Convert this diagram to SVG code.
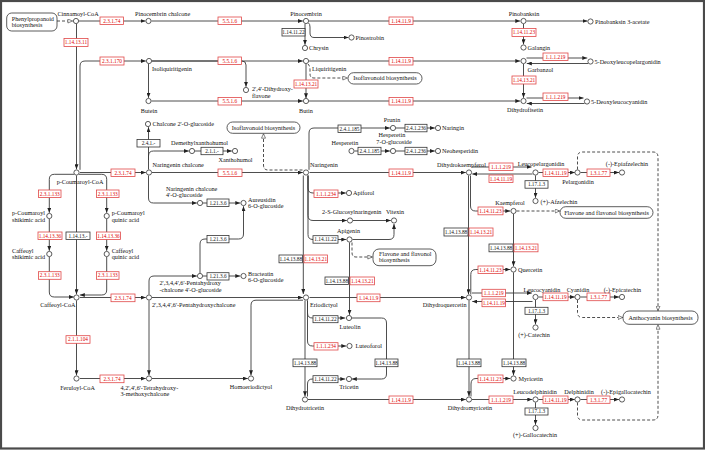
<svg xmlns="http://www.w3.org/2000/svg" width="705" height="450" viewBox="0 0 705 450">
<defs>
<marker id="a" markerUnits="userSpaceOnUse" markerWidth="5" markerHeight="4" refX="5" refY="2" orient="auto"><path d="M0,0 L5,2 L0,4 z" fill="#222"/></marker>
<marker id="o" markerUnits="userSpaceOnUse" markerWidth="6" markerHeight="5" refX="5.2" refY="2.5" orient="auto"><path d="M0.5,0.5 L5,2.5 L0.5,4.5 z" fill="#fff" stroke="#333" stroke-width="0.6"/></marker>
<style>
.ln{fill:none;stroke:#3a3a3a;stroke-width:0.9;marker-end:url(#a)}
.ds{fill:none;stroke:#3a3a3a;stroke-width:0.9;stroke-dasharray:3 2;marker-end:url(#o)}
.cp circle{fill:#fff;stroke:#333;stroke-width:0.8}
text{font-family:"Liberation Serif","Times New Roman",serif;font-size:6.2px;fill:#111}
.m{text-anchor:middle}
.e{text-anchor:end}
.er rect{fill:#fff;stroke:#e04848;stroke-width:0.8}
.er text{fill:#e00000;font-size:5.3px;text-anchor:middle}
.eb rect{fill:#fff;stroke:#333;stroke-width:0.8}
.eb text{fill:#111;font-size:5.3px;text-anchor:middle}
.mp rect{fill:#fff;stroke:#333;stroke-width:0.8}
</style>
</defs>
<rect x="0" y="0" width="705" height="450" fill="#fff"/>
<rect x="1" y="1" width="703" height="447.5" fill="none" stroke="#4a4a4a" stroke-width="2.2"/>

<g id="connectors">
<path class="ds" d="M57,21 H72.6"/>
<path class="ln" d="M78.5,21 H145.5"/>
<path class="ln" d="M151.5,21 H302.8"/>
<path class="ln" d="M309,21 H520.3"/>
<path class="ln" d="M308.5,23 Q310,24 310,27 V33 Q310,37.5 314,37.5 H348.5"/>
<path class="ln" d="M305,24 V44.8"/>
<path class="ln" d="M526.5,21 H587.5"/>
<path class="ln" d="M523.5,24 V44.3"/>
<path class="ln" d="M76.5,24 V169.3"/>
<path class="ln" d="M80,169.8 V66 Q80,61 85,61 H145.8"/>
<path class="ln" d="M152,61 H302.8"/>
<path class="ln" d="M152,61 H242 Q246,61 246,65 V86.8"/>
<path class="ln" d="M148.5,64 V97.8"/>
<path class="ds" d="M308,64 Q310,66 310,70 V74 Q310,78 314,78 H347.5"/>
<path class="ln" d="M306,64 V98.3"/>
<path class="ln" d="M309,61 H520.3"/>
<path class="ln" d="M526.5,58 H587.3"/>
<path class="ln" d="M588,63.5 H526.8"/>
<path class="ln" d="M523.5,64 V97.8"/>
<path class="ln" d="M151.5,101 H302.8"/>
<path class="ln" d="M309,101 H520.3"/>
<path class="ln" d="M526.5,98 H583.5"/>
<path class="ln" d="M584.5,103.5 H526.8"/>
<path class="ln" d="M148.5,169.5 V127.2"/>
<path class="ln" d="M148.5,160 V156 Q148.5,151 153.5,151 H188.8"/>
<path class="ln" d="M148.5,175.5 V198 Q148.5,203 153.5,203 H196.8"/>
<path class="ln" d="M195,151 H231.8"/>
<path class="ln" d="M152,172.5 H302.8"/>
<path class="ln" d="M80,172.5 H145.8"/>
<path class="ds" d="M302.5,170 H268 Q263.5,170 263.5,165 V133.5"/>
<path class="ln" d="M309,169.8 V133 Q309,128 314,128 H389.8"/>
<path class="ln" d="M396,128 H434.8"/>
<path class="ln" d="M354.5,151 H389.8"/>
<path class="ln" d="M396,151 H434.8"/>
<path class="ln" d="M309.5,172.5 H465.8"/>
<path class="ln" d="M308,175.5 V188 Q308,193 313,193 H345.8"/>
<path class="ln" d="M308,175.5 V215.5 Q308,220.5 313,220.5 H346.8"/>
<path class="ln" d="M308,175.5 V234.5 Q308,239.5 313,239.5 H346.3"/>
<path class="ln" d="M303.3,175.5 V294"/>
<path class="ln" d="M353,220.5 H390.8"/>
<path class="ln" d="M352.5,239.5 H389 Q394,239.5 394,234.5 V224"/>
<path class="ds" d="M352,242.5 V252.5 Q352,257 356,257 H372.5"/>
<path class="ln" d="M349.5,242.5 V314.8"/>
<path class="ln" d="M152,297.5 H302.8"/>
<path class="ln" d="M80,297.5 H145.8"/>
<path class="ln" d="M149,294.5 V281 Q149,276 154,276 H196.8"/>
<path class="ln" d="M203,276 H240.3"/>
<path class="ln" d="M200,273 V244 Q200,239 205,239 H238.5 Q243.5,239 243.5,234 V206.3"/>
<path class="ln" d="M203,203 H240.3"/>
<path class="ln" d="M149,300.5 V375.3"/>
<path class="ln" d="M80,378.5 H145.8"/>
<path class="ln" d="M152,378.5 H247.8"/>
<path class="ln" d="M303,300.2 H256 Q251,300.2 251,305.2 V375.3"/>
<path class="ln" d="M76.5,300.5 V375.3"/>
<path class="ln" d="M76.5,175.5 V294.3"/>
<path class="ln" d="M74,174.3 H54.3 Q49.3,174.3 49.3,179.3 V212.8"/>
<path class="ln" d="M49.3,219 V250.8"/>
<path class="ln" d="M49.3,257 V292 Q49.3,297 54.3,297 H73.8"/>
<path class="ln" d="M79,174.3 H101.7 Q106.7,174.3 106.7,179.3 V212.8"/>
<path class="ln" d="M106.7,219 V250.8"/>
<path class="ln" d="M106.7,257 V290 Q106.7,295 101.7,295 H79.8"/>
<path class="ln" d="M472,167 H531.5"/>
<path class="ln" d="M532.5,174 H472.3"/>
<path class="ln" d="M538.5,172.5 H574.8"/>
<path class="ln" d="M580.5,172.5 H619"/>
<path class="ln" d="M535.5,175.5 V197.8"/>
<path class="ds" d="M577.5,169.5 V157 Q577.5,152 582.5,152 H653 Q658,152 658,157 V310.8"/>
<path class="ln" d="M470.5,175.5 V206 Q470.5,211 475.5,211 H510.3"/>
<path class="ln" d="M468.5,175.5 V294.3"/>
<path class="ds" d="M516.5,211 H559.8"/>
<path class="ln" d="M513.5,214 V266.3"/>
<path class="ln" d="M470.8,294.5 V274.5 Q470.8,269.5 475.8,269.5 H510.3"/>
<path class="ln" d="M309.5,297.5 H465.8"/>
<path class="ln" d="M472,293 H531.8"/>
<path class="ln" d="M532.5,301.5 H472.3"/>
<path class="ln" d="M538.5,297 H574.8"/>
<path class="ln" d="M580.5,297 H619"/>
<path class="ln" d="M535.5,300 V324.3"/>
<path class="ds" d="M577.5,300 V312.5 Q577.5,317.5 582.5,317.5 H622.8"/>
<path class="ln" d="M307.5,300.5 V313 Q307.5,318 312.5,318 H345.3"/>
<path class="ln" d="M307.5,300.5 V341 Q307.5,346 312.5,346 H346.3"/>
<path class="ln" d="M305,300.5 V396.3"/>
<path class="ln" d="M307.5,396.5 V384 Q307.5,379 312.5,379 H345.3"/>
<path class="ln" d="M351.5,318 H381.5 Q386.5,318 386.5,323 V374 Q386.5,379 381.5,379 H351.8"/>
<path class="ln" d="M308,399.5 H465.8"/>
<path class="ln" d="M469,300.5 V396.3"/>
<path class="ln" d="M471,396.5 V384 Q471,378.5 476,378.5 H510.3"/>
<path class="ln" d="M513.5,272.5 V375.3"/>
<path class="ln" d="M472,399.5 H532.3"/>
<path class="ln" d="M538.5,399.5 H574.8"/>
<path class="ln" d="M580.5,399.5 H619"/>
<path class="ln" d="M535.5,402.5 V424.8"/>
<path class="ds" d="M577.5,402.5 V415 Q577.5,420 582.5,420 H653 Q658,420 658,415 V324.5"/>
</g>

<g id="enzymes">
<g id="e1" class="er"><rect x="100" y="17" width="23.5" height="7.5"/><text x="111.8" y="22.7">2.3.1.74</text></g>
<g id="e2" class="er"><rect x="218" y="17" width="23.5" height="7.5"/><text x="229.8" y="22.7">5.5.1.6</text></g>
<g id="e3" class="eb"><rect x="282" y="28.5" width="23" height="7.5"/><text x="293.5" y="34.2">1.14.11.22</text></g>
<g id="e4" class="er"><rect x="389" y="17" width="24" height="7.5"/><text x="401" y="22.7">1.14.11.9</text></g>
<g id="e5" class="er"><rect x="512" y="28.5" width="24" height="8"/><text x="524" y="34.4">1.14.11.23</text></g>
<g id="e6" class="er"><rect x="64" y="38.5" width="24" height="8"/><text x="76" y="44.4">1.14.13.11</text></g>
<g id="e7" class="er"><rect x="100" y="57" width="24" height="8"/><text x="112" y="62.9">2.3.1.170</text></g>
<g id="e8" class="er"><rect x="218" y="57" width="23.5" height="7.5"/><text x="229.8" y="62.7">5.5.1.6</text></g>
<g id="e9" class="er"><rect x="389" y="57.5" width="24" height="7.5"/><text x="401" y="63.2">1.14.11.9</text></g>
<g id="e10" class="er"><rect x="543" y="53" width="25" height="7.5"/><text x="555.5" y="58.7">1.1.1.219</text></g>
<g id="e11" class="er"><rect x="294" y="80" width="24" height="8"/><text x="306" y="85.9">1.14.13.21</text></g>
<g id="e12" class="er"><rect x="512" y="76" width="24" height="8"/><text x="524" y="81.9">1.14.13.21</text></g>
<g id="e13" class="er"><rect x="218" y="97.5" width="23.5" height="7.5"/><text x="229.8" y="103.2">5.5.1.6</text></g>
<g id="e14" class="er"><rect x="389" y="97.5" width="24" height="7.5"/><text x="401" y="103.2">1.14.11.9</text></g>
<g id="e15" class="er"><rect x="543" y="93" width="25" height="7.5"/><text x="555.5" y="98.7">1.1.1.219</text></g>
<g id="e16" class="eb"><rect x="137" y="139.5" width="23" height="7.5"/><text x="148.5" y="145.2">2.4.1.-</text></g>
<g id="e17" class="eb"><rect x="201" y="147.3" width="22" height="7.4"/><text x="212" y="152.9">2.1.1.-</text></g>
<g id="e18" class="eb"><rect x="338" y="125" width="23" height="7.5"/><text x="349.5" y="130.7">2.4.1.185</text></g>
<g id="e19" class="eb"><rect x="405" y="124.3" width="22" height="7.5"/><text x="416" y="130">2.4.1.236</text></g>
<g id="e20" class="eb"><rect x="358" y="147.3" width="23" height="7.4"/><text x="369.5" y="152.9">2.4.1.185</text></g>
<g id="e21" class="eb"><rect x="405" y="147.3" width="22" height="7.4"/><text x="416" y="152.9">2.4.1.236</text></g>
<g id="e22" class="er"><rect x="111" y="169" width="24" height="7.5"/><text x="123" y="174.7">2.3.1.74</text></g>
<g id="e23" class="er"><rect x="218" y="169" width="24" height="7.5"/><text x="230" y="174.7">5.5.1.6</text></g>
<g id="e24" class="er"><rect x="389" y="169" width="24" height="7.5"/><text x="401" y="174.7">1.14.11.9</text></g>
<g id="e25" class="er"><rect x="489" y="163" width="24" height="7.5"/><text x="501" y="168.7">1.1.1.219</text></g>
<g id="e26" class="er"><rect x="489" y="175" width="24" height="7.5"/><text x="501" y="180.7">1.14.11.19</text></g>
<g id="e27" class="er"><rect x="543" y="169" width="25" height="7.5"/><text x="555.5" y="174.7">1.14.11.19</text></g>
<g id="e28" class="er"><rect x="587" y="169" width="23" height="7.5"/><text x="598.5" y="174.7">1.3.1.77</text></g>
<g id="e29" class="eb"><rect x="525" y="180.7" width="23" height="7.5"/><text x="536.5" y="186.4">1.17.1.3</text></g>
<g id="e30" class="er"><rect x="38.5" y="190" width="22.5" height="7.5"/><text x="49.8" y="195.7">2.3.1.133</text></g>
<g id="e31" class="er"><rect x="96.5" y="190" width="22.5" height="7.5"/><text x="107.8" y="195.7">2.3.1.133</text></g>
<g id="e32" class="er"><rect x="314" y="190" width="24" height="7.5"/><text x="326" y="195.7">1.1.1.234</text></g>
<g id="e33" class="eb"><rect x="207" y="199" width="22" height="7.5"/><text x="218" y="204.7">1.21.3.6</text></g>
<g id="e34" class="er"><rect x="478" y="207" width="25" height="7.8"/><text x="490.5" y="212.8">1.14.11.23</text></g>
<g id="e35" class="eb"><rect x="444" y="228" width="24" height="8"/><text x="456" y="233.9">1.14.13.88</text></g>
<g id="e36" class="er"><rect x="469" y="228" width="24" height="8"/><text x="481" y="233.9">1.14.13.21</text></g>
<g id="e37" class="er"><rect x="38" y="232" width="24" height="7.5"/><text x="50" y="237.7">1.14.13.36</text></g>
<g id="e38" class="eb"><rect x="66" y="232" width="24" height="7.5"/><text x="78" y="237.7">1.14.13.-</text></g>
<g id="e39" class="er"><rect x="96.5" y="232" width="24" height="7.5"/><text x="108.5" y="237.7">1.14.13.36</text></g>
<g id="e40" class="eb"><rect x="313" y="235.7" width="25" height="7.5"/><text x="325.5" y="241.4">1.14.11.22</text></g>
<g id="e41" class="eb"><rect x="207" y="235.5" width="22" height="7.3"/><text x="218" y="241.1">1.21.3.6</text></g>
<g id="e42" class="eb"><rect x="489" y="244" width="24" height="7.8"/><text x="501" y="249.8">1.14.13.88</text></g>
<g id="e43" class="er"><rect x="514" y="244" width="24" height="7.8"/><text x="526" y="249.8">1.14.13.21</text></g>
<g id="e44" class="eb"><rect x="279" y="255" width="23.5" height="7.8"/><text x="290.8" y="260.8">1.14.13.88</text></g>
<g id="e45" class="er"><rect x="304" y="255" width="23.5" height="7.8"/><text x="315.8" y="260.8">1.14.13.21</text></g>
<g id="e46" class="er"><rect x="478" y="266" width="25" height="7.5"/><text x="490.5" y="271.7">1.14.11.23</text></g>
<g id="e47" class="er"><rect x="38.5" y="271.7" width="22.5" height="7.6"/><text x="49.8" y="277.4">2.3.1.133</text></g>
<g id="e48" class="er"><rect x="96.5" y="271.7" width="22.5" height="7.6"/><text x="107.8" y="277.4">2.3.1.133</text></g>
<g id="e49" class="eb"><rect x="207" y="272.7" width="22" height="7.3"/><text x="218" y="278.3">1.21.3.6</text></g>
<g id="e50" class="eb"><rect x="325" y="277" width="23.5" height="7.5"/><text x="336.8" y="282.7">1.14.13.88</text></g>
<g id="e51" class="er"><rect x="350" y="277" width="24.5" height="7.8"/><text x="362.3" y="282.8">1.14.13.21</text></g>
<g id="e52" class="er"><rect x="482" y="289.3" width="23.5" height="7.4"/><text x="493.8" y="294.9">1.1.1.219</text></g>
<g id="e53" class="er"><rect x="482" y="299" width="23.5" height="7.7"/><text x="493.8" y="304.8">1.14.11.19</text></g>
<g id="e54" class="er"><rect x="543" y="293" width="25" height="7.7"/><text x="555.5" y="298.8">1.14.11.19</text></g>
<g id="e55" class="er"><rect x="587" y="293" width="23" height="7.7"/><text x="598.5" y="298.8">1.3.1.77</text></g>
<g id="e56" class="er"><rect x="111" y="294" width="24" height="7.7"/><text x="123" y="299.8">2.3.1.74</text></g>
<g id="e57" class="er"><rect x="357" y="294" width="23" height="7.7"/><text x="368.5" y="299.8">1.14.11.9</text></g>
<g id="e58" class="eb"><rect x="525" y="307.3" width="23" height="7"/><text x="536.5" y="312.7">1.17.1.3</text></g>
<g id="e59" class="eb"><rect x="313" y="315.7" width="25" height="7"/><text x="325.5" y="321.1">1.14.11.22</text></g>
<g id="e60" class="er"><rect x="66" y="335.7" width="24" height="7.6"/><text x="78" y="341.4">2.1.1.104</text></g>
<g id="e61" class="er"><rect x="314" y="342.7" width="24" height="7.3"/><text x="326" y="348.3">1.1.1.234</text></g>
<g id="e62" class="eb"><rect x="293" y="359" width="24" height="7.7"/><text x="305" y="364.8">1.14.13.88</text></g>
<g id="e63" class="eb"><rect x="375" y="359" width="23" height="7.7"/><text x="386.5" y="364.8">1.14.13.88</text></g>
<g id="e64" class="eb"><rect x="457" y="359" width="24" height="7.7"/><text x="469" y="364.8">1.14.13.88</text></g>
<g id="e65" class="eb"><rect x="502" y="359" width="24" height="7.7"/><text x="514" y="364.8">1.14.13.88</text></g>
<g id="e66" class="er"><rect x="100" y="375" width="24" height="7.7"/><text x="112" y="380.8">2.3.1.74</text></g>
<g id="e67" class="eb"><rect x="313" y="375.7" width="25" height="7"/><text x="325.5" y="381.1">1.14.11.22</text></g>
<g id="e68" class="er"><rect x="478" y="375" width="25" height="7.7"/><text x="490.5" y="380.8">1.14.11.23</text></g>
<g id="e69" class="er"><rect x="389" y="396" width="24" height="7.3"/><text x="401" y="401.6">1.14.11.9</text></g>
<g id="e70" class="er"><rect x="489" y="396" width="24" height="7.3"/><text x="501" y="401.6">1.1.1.219</text></g>
<g id="e71" class="er"><rect x="543" y="396" width="25" height="7.3"/><text x="555.5" y="401.6">1.14.11.19</text></g>
<g id="e72" class="er"><rect x="587" y="396" width="23" height="7.3"/><text x="598.5" y="401.6">1.3.1.77</text></g>
<g id="e73" class="eb"><rect x="525" y="408" width="23" height="7"/><text x="536.5" y="413.4">1.17.1.3</text></g>
</g>

<g id="maps" class="mp">
<g id="m-phenylpropanoid"><rect x="6.7" y="13" width="50.3" height="18" rx="5"/><text x="11.7" y="20.8">Phenylpropanoid</text><text x="11.7" y="26.8">biosynthesis</text></g>
<g id="m-isoflavonoid1"><rect x="348" y="72.7" width="74" height="11.3" rx="5.6"/><text class="m" x="385" y="80.4">Isoflavonoid biosynthesis</text></g>
<g id="m-isoflavonoid2"><rect x="227" y="122" width="73" height="11.3" rx="5.6"/><text class="m" x="263.5" y="129.8">Isoflavonoid biosynthesis</text></g>
<g id="m-flavone1"><rect x="373" y="249" width="63" height="16.7" rx="6"/><text x="379" y="256">Flavone and flavonol</text><text x="379" y="262.2">biosynthesis</text></g>
<g id="m-flavone2"><rect x="560" y="206.7" width="93" height="11.6" rx="5.8"/><text class="m" x="606.5" y="214.6">Flavone and flavonol biosynthesis</text></g>
<g id="m-anthocyanin"><rect x="623" y="311" width="75" height="13.3" rx="6"/><text class="m" x="660.5" y="319.8">Anthocyanin biosynthesis</text></g>
</g>

<g id="compounds" class="cp">
<g id="cinnamoyl-coa"><circle cx="76" cy="21" r="2.6"/><text class="m" x="78" y="15.5">Cinnamoyl-CoA</text></g>
<g id="pinocembrin-chalcone"><circle cx="148.5" cy="21" r="2.6"/><text x="135" y="15.5">Pinocembrin chalcone</text></g>
<g id="pinocembrin"><circle cx="306" cy="21" r="2.6"/><text class="m" x="306" y="15.5">Pinocembrin</text></g>
<g id="pinostrobin"><circle cx="351.5" cy="37.5" r="2.6"/><text x="355.5" y="39.7">Pinostrobin</text></g>
<g id="chrysin"><circle cx="305" cy="48" r="2.6"/><text x="309" y="50">Chrysin</text></g>
<g id="pinobanksin"><circle cx="523.5" cy="21" r="2.6"/><text class="m" x="524" y="15.5">Pinobanksin</text></g>
<g id="pinobanksin-3-acetate"><circle cx="590.5" cy="21.5" r="2.6"/><text x="595" y="23.5">Pinobanksin 3-acetate</text></g>
<g id="galangin"><circle cx="523.5" cy="47.5" r="2.6"/><text x="527.5" y="49.5">Galangin</text></g>
<g id="isoliquiritigenin"><circle cx="149" cy="61" r="2.6"/><text x="152" y="71">Isoliquiritigenin</text></g>
<g id="liquiritigenin"><circle cx="306" cy="61" r="2.6"/><text x="312" y="71">Liquiritigenin</text></g>
<g id="dihydroxyflavone"><circle cx="246" cy="90" r="2.6"/><text x="252" y="91">2',4'-Dihydroxy-</text><text x="252" y="97.8">flavone</text></g>
<g id="garbanzol"><circle cx="523.5" cy="61" r="2.6"/><text x="527.5" y="72">Garbanzol</text></g>
<g id="deoxyleucopelargonidin"><circle cx="590.5" cy="61.5" r="2.6"/><text x="594.5" y="63.5">5-Deoxyleucopelargonidin</text></g>
<g id="butein"><circle cx="148.5" cy="101" r="2.6"/><text class="m" x="149" y="112.7">Butein</text></g>
<g id="butin"><circle cx="306" cy="101" r="2.6"/><text class="m" x="306" y="112.7">Butin</text></g>
<g id="dihydrofisetin"><circle cx="523.5" cy="101" r="2.6"/><text class="m" x="525" y="112.3">Dihydrofisetin</text></g>
<g id="deoxyleucocyanidin"><circle cx="587" cy="101.5" r="2.6"/><text x="591" y="103.5">5-Deoxyleucocyanidin</text></g>
<g id="chalcone-2-glucoside"><circle cx="148" cy="124" r="2.6"/><text x="152.5" y="126">Chalcone 2'-O-glucoside</text></g>
<g id="demethylxanthohumol"><circle cx="192" cy="151" r="2.6"/><text x="171" y="145">Demethylxanthohumol</text></g>
<g id="xanthohumol"><circle cx="235" cy="151" r="2.6"/><text class="m" x="235.5" y="162">Xanthohumol</text></g>
<g id="prunin"><circle cx="393" cy="128" r="2.6"/><text class="m" x="392" y="122">Prunin</text></g>
<g id="naringin"><circle cx="438" cy="128" r="2.6"/><text x="442" y="130">Naringin</text></g>
<g id="hesperetin"><circle cx="351.5" cy="151" r="2.6"/><text class="m" x="345" y="145">Hesperetin</text></g>
<g id="hesperetin-7-glucoside"><circle cx="393" cy="151" r="2.6"/><text class="m" x="392" y="137.2">Hesperetin</text><text class="m" x="394" y="144.2">7-O-glucoside</text></g>
<g id="neohesperidin"><circle cx="438" cy="151" r="2.6"/><text x="442" y="153">Neohesperidin</text></g>
<g id="p-coumaroyl-coa"><circle cx="76.5" cy="172.5" r="2.6"/><text class="m" x="80" y="184.3">p-Coumaroyl-CoA</text></g>
<g id="naringenin-chalcone"><circle cx="149" cy="172.5" r="2.6"/><text x="152.5" y="167">Naringenin chalcone</text></g>
<g id="naringenin"><circle cx="306" cy="172.5" r="2.6"/><text x="310" y="167">Naringenin</text></g>
<g id="dihydrokaempferol"><circle cx="469" cy="172.5" r="2.6"/><text class="m" x="461.5" y="167">Dihydrokaempferol</text></g>
<g id="leucopelargonidin"><circle cx="535.5" cy="172.5" r="2.6"/><text class="m" x="541" y="166">Leucopelargonidin</text></g>
<g id="pelargonidin"><circle cx="577.5" cy="172.5" r="2.6"/><text class="m" x="578" y="183.7">Pelargonidin</text></g>
<g id="epiafzelechin"><circle cx="622" cy="172.5" r="2.6"/><text class="m" x="627" y="166">(-)-Epiafzelechin</text></g>
<g id="afzelechin"><circle cx="535.5" cy="201" r="2.6"/><text x="540.5" y="203.5">(+)-Afzelechin</text></g>
<g id="naringenin-chalcone-4-glucoside"><circle cx="200" cy="203" r="2.6"/><text x="166" y="190.8">Naringenin chalcone</text><text x="166" y="197.4">4'-O-glucoside</text></g>
<g id="aureusidin-6-glucoside"><circle cx="243.5" cy="203" r="2.6"/><text x="248" y="201.8">Aureusidin</text><text x="248" y="208.4">6-O-glucoside</text></g>
<g id="apiforol"><circle cx="349" cy="193" r="2.6"/><text x="353" y="195">Apiforol</text></g>
<g id="kaempferol"><circle cx="513.5" cy="211" r="2.6"/><text class="m" x="510" y="205.3">Kaempferol</text></g>
<g id="p-coumaroyl-shikimic"><circle cx="49.3" cy="216" r="2.6"/><text x="12" y="215">p-Coumaroyl</text><text x="12" y="221.8">shikimic acid</text></g>
<g id="p-coumaroyl-quinic"><circle cx="106.7" cy="216" r="2.6"/><text x="111.7" y="215">p-Coumaroyl</text><text x="111.7" y="221.8">quinic acid</text></g>
<g id="s-glucosylnaringenin"><circle cx="350" cy="220.5" r="2.6"/><text x="322" y="214">2-S-Glucosylnaringenin</text></g>
<g id="vitexin"><circle cx="394" cy="220.5" r="2.6"/><text class="m" x="395" y="214">Vitexin</text></g>
<g id="apigenin"><circle cx="349.5" cy="239.5" r="2.6"/><text class="m" x="348.5" y="233">Apigenin</text></g>
<g id="caffeoyl-shikimic"><circle cx="49.3" cy="254" r="2.6"/><text x="12" y="252.6">Caffeoyl</text><text x="12" y="259.4">shikimic acid</text></g>
<g id="caffeoyl-quinic"><circle cx="106.7" cy="254" r="2.6"/><text x="111.7" y="252.6">Caffeoyl</text><text x="111.7" y="259.4">quinic acid</text></g>
<g id="quercetin"><circle cx="513.5" cy="269.5" r="2.6"/><text x="518" y="271.7">Quercetin</text></g>
<g id="pentahydroxychalcone-4-glucoside"><circle cx="200" cy="276" r="2.6"/><text x="159.5" y="285.3">2',3,4,4',6'-Pentahydroxy</text><text x="159.5" y="292.1">-chalcone 4'-O-glucoside</text></g>
<g id="bracteatin-6-glucoside"><circle cx="243.5" cy="276" r="2.6"/><text x="248" y="275.8">Bracteatin</text><text x="248" y="282.4">6-O-glucoside</text></g>
<g id="caffeoyl-coa"><circle cx="76.5" cy="297.5" r="2.6"/><text class="e" x="75.5" y="307">Caffeoyl-CoA</text></g>
<g id="pentahydroxychalcone"><circle cx="149" cy="297.5" r="2.6"/><text x="152" y="307">2',3,4,4',6'-Pentahydroxychalcone</text></g>
<g id="eriodictyol"><circle cx="306" cy="297.5" r="2.6"/><text x="310" y="307">Eriodictyol</text></g>
<g id="dihydroquercetin"><circle cx="469" cy="297.5" r="2.6"/><text class="e" x="466.5" y="307">Dihydroquercetin</text></g>
<g id="leucocyanidin"><circle cx="535.5" cy="297" r="2.6"/><text class="m" x="542" y="291.5">Leucocyanidin</text></g>
<g id="cyanidin"><circle cx="577.5" cy="297" r="2.6"/><text class="m" x="578" y="291.5">Cyanidin</text></g>
<g id="epicatechin"><circle cx="622" cy="297" r="2.6"/><text class="m" x="622.5" y="291.5">(-)-Epicatechin</text></g>
<g id="luteolin"><circle cx="349" cy="318" r="2.6"/><text class="m" x="350" y="328.7">Luteolin</text></g>
<g id="catechin"><circle cx="535.5" cy="327.5" r="2.6"/><text class="m" x="534" y="337">(+)-Catechin</text></g>
<g id="luteoforol"><circle cx="349.5" cy="346" r="2.6"/><text x="355.5" y="348">Luteoforol</text></g>
<g id="feruloyl-coa"><circle cx="76.5" cy="378.5" r="2.6"/><text class="m" x="77.5" y="389.7">Feruloyl-CoA</text></g>
<g id="tetrahydroxy-methoxychalcone"><circle cx="149" cy="378.5" r="2.6"/><text x="120.5" y="389.5">4,2',4',6'-Tetrahydroxy-</text><text x="120.5" y="396.2">3-methoxychalcone</text></g>
<g id="homoeriodictyol"><circle cx="251" cy="378.5" r="2.6"/><text class="m" x="251" y="388.7">Homoeriodictyol</text></g>
<g id="tricetin"><circle cx="349" cy="379" r="2.6"/><text class="m" x="349" y="388.7">Tricetin</text></g>
<g id="myricetin"><circle cx="513.5" cy="378.5" r="2.6"/><text x="518.5" y="380.5">Myricetin</text></g>
<g id="dihydrotricetin"><circle cx="305" cy="399.5" r="2.6"/><text class="m" x="305" y="410.3">Dihydrotricetin</text></g>
<g id="dihydromyricetin"><circle cx="469" cy="399.5" r="2.6"/><text class="m" x="470" y="410.3">Dihydromyricetin</text></g>
<g id="leucodelphinidin"><circle cx="535.5" cy="399.5" r="2.6"/><text class="m" x="535" y="394.3">Leucodelphinidin</text></g>
<g id="delphinidin"><circle cx="577.5" cy="399.5" r="2.6"/><text class="m" x="579" y="394.3">Delphinidin</text></g>
<g id="epigallocatechin"><circle cx="622" cy="399.5" r="2.6"/><text class="m" x="626" y="394.3">(-)-Epigallocatechin</text></g>
<g id="gallocatechin"><circle cx="535.5" cy="428" r="2.6"/><text class="m" x="535" y="437">(+)-Gallocatechin</text></g>
</g>
</svg>
